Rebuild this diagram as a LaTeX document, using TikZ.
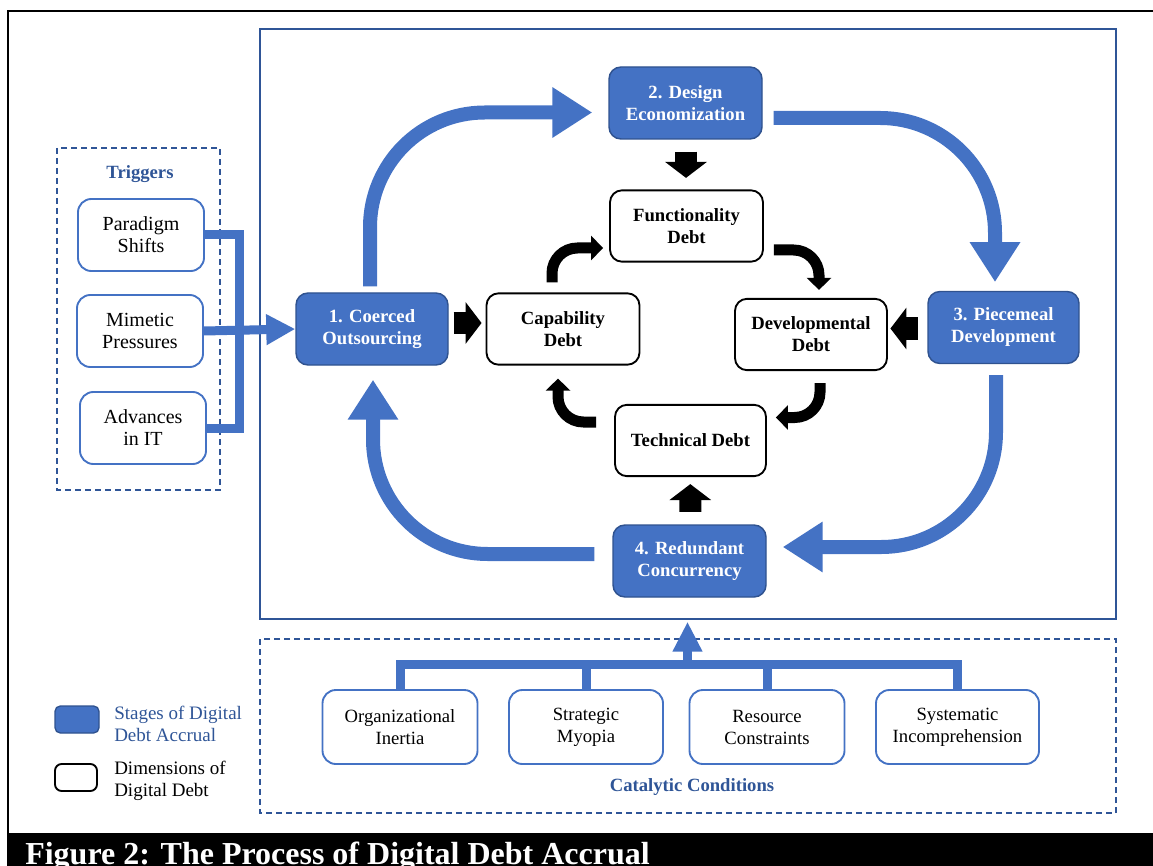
\documentclass[tikz,border=0pt]{standalone}
\usepackage{fontspec}
\setmainfont{Liberation Serif}
\usetikzlibrary{arrows.meta,calc}
\definecolor{stageblue}{RGB}{68,114,196}
\definecolor{stageedge}{RGB}{47,82,143}
\definecolor{framecol}{RGB}{47,85,151}
\definecolor{labelblue}{RGB}{47,85,151}
\begin{document}
\begin{tikzpicture}[x=0.75pt,y=-0.75pt,
 stagebox/.style={rectangle, rounded corners=9pt, fill=stageblue, draw=stageedge, line width=1.1pt, text=white, align=center, font=\bfseries\fontsize{14}{16.5}\selectfont, inner sep=0pt, minimum height=54pt},
 dimbox/.style={rectangle, rounded corners=9pt, fill=white, draw=black, line width=1.4pt, align=center, font=\bfseries\fontsize{14}{16.5}\selectfont, inner sep=0pt, minimum height=53.5pt},
 trigbox/.style={rectangle, rounded corners=10pt, fill=white, draw=stageblue, line width=1.4pt, align=center, font=\fontsize{15}{16.5}\selectfont, minimum width=94.5pt, minimum height=54pt, inner sep=0pt},
 catbox/.style={rectangle, rounded corners=10pt, fill=white, draw=stageblue, line width=1.4pt, align=center, font=\fontsize{14}{16.5}\selectfont, minimum height=55.5pt, inner sep=0pt},
 dashframe/.style={draw=framecol, line width=1.2pt, dash pattern=on 4.5pt off 3pt},
 bluearrow/.style={draw=stageblue, line width=10.5pt, rounded corners=86pt, -{Triangle[width=36pt,length=30pt]}},
 blackcurve/.style={draw=black, line width=8.25pt, rounded corners=19pt, -{Triangle[width=18pt,length=9pt]}},
 blockarrow/.style={draw=black, line width=16.5pt, -{Triangle[width=30.75pt,length=12pt]}},
 trigline/.style={draw=stageblue, line width=6.75pt, line join=miter},
 trigarrow/.style={draw=stageblue, line width=6.75pt, -{Triangle[width=21.75pt,length=21.75pt]}},
 catarrow/.style={draw=stageblue, line width=6.75pt, -{Triangle[width=21pt,length=22.5pt]}}
]
\useasboundingbox (0,0) rectangle (1153,866);

% outer frame and caption bar
\draw[line width=1.5pt] (8,833) -- (8,11) -- (1160,11);
\fill[black] (7,833) rectangle (1160,870);
\node[anchor=base west, inner sep=0pt, text=white, font=\bfseries\fontsize{24}{28}\selectfont] (caption) at (25,864) {Figure 2: The Process of Digital Debt Accrual};

% frames
\draw[draw=framecol, line width=1.2pt] (260,29) rectangle (1116,619);
\draw[dashframe] (57,148) rectangle (220,490);
\draw[dashframe] (260,639) rectangle (1116,813);

% triggers
\node[font=\bfseries\fontsize{14}{16}\selectfont, text=labelblue] (trighead) at (140,174) {Triggers};
\node[trigbox] (trig1) at (141,235) {Paradigm\\Shifts};
\node[trigbox] (trig2) at (140,331) {Mimetic\\Pressures};
\node[trigbox] (trig3) at (143,428) {Advances\\in IT};

% stages
\node[stagebox, minimum width=114pt] (s1) at (372,329) {1. Coerced\\Outsourcing};
\node[stagebox, minimum width=114.75pt] (s2) at (685.5,103) {2. Design\\Economization};
\node[stagebox, minimum width=113.25pt] (s3) at (1003.5,327.5) {3. Piecemeal\\Development};
\node[stagebox, minimum width=114.75pt] (s4) at (689.5,561) {4. Redundant\\Concurrency};

% dimensions
\node[dimbox, minimum width=114.75pt] (dfun) at (686.5,226) {Functionality\\Debt};
\node[dimbox, minimum width=114.75pt] (dcap) at (563,329) {Capability\\Debt};
\node[dimbox, minimum width=114pt] (ddev) at (811,334.5) {Developmental\\Debt};
\node[dimbox, minimum width=113.25pt] (dtech) at (690.5,440.5) {Technical Debt};

% catalytic conditions
\node[catbox, minimum width=116.25pt] (corg) at (400,727) {Organizational\\Inertia};
\node[catbox, minimum width=115.5pt] (cstr) at (586,727) {Strategic\\Myopia};
\node[catbox, minimum width=116.25pt] (cres) at (767,727) {Resource\\Constraints};
\node[catbox, minimum width=122.25pt] (csys) at (957.5,727) {Systematic\\Incomprehension};
\node[font=\bfseries\fontsize{14}{16}\selectfont, text=labelblue] (cathead) at (692,787) {Catalytic Conditions};

% legend
\node[rectangle, rounded corners=4pt, fill=stageblue, draw=stageedge, line width=1pt, minimum width=33pt, minimum height=20.25pt, inner sep=0pt] (legs) at (77,719.5) {};
\node[rectangle, rounded corners=5pt, fill=white, draw=black, line width=1.4pt, minimum width=31.5pt, minimum height=20.25pt, inner sep=0pt] (legd) at (76,777.5) {};
\node[anchor=west, align=left, text=labelblue, font=\fontsize{14.25}{17}\selectfont, inner sep=0pt] (legst) at (114,724) {Stages of Digital\\Debt Accrual};
\node[anchor=west, align=left, font=\fontsize{14.25}{17}\selectfont, inner sep=0pt] (legdt) at (114,781) {Dimensions of\\Digital Debt};

% trigger connectors
\draw[trigline] (trig1.east) -- ++(35,0) |- (trig3.east);
\draw[trigarrow] (trig2.east) -- (s1.west);

% catalytic connectors
\coordinate (catmid) at ($(s4.south)+(-2,68)$);
\draw[trigline] (corg.north) -- ($(corg.north)+(0,-25)$) -- ($(csys.north)+(0,-25)$) -- (csys.north);
\draw[trigline] (cstr.north) -- ($(cstr.north)+(0,-25)$);
\draw[trigline] (cres.north) -- ($(cres.north)+(0,-25)$);
\draw[catarrow] (catmid) -- ($(s4.south)+(-2,24)$);

% big blue cycle
\draw[bluearrow] ($(s1.north)+(-2,-6)$) |- ($(s2.west)+(-16,9.5)$);
\draw[bluearrow] ($(s2.east)+(11,15)$) -| ($(s3.north)+(-8.5,-8.7)$);
\draw[bluearrow] ($(s3.south)+(-7.5,11)$) |- ($(s4.east)+(16,-14)$);
\draw[bluearrow] ($(s4.west)+(-18,-7)$) -| ($(s1.south)+(1,14)$);

% black block arrows
\draw[blockarrow] ($(s2.south)+(0.5,12)$) -- ($(dfun.north)+(-0.5,-11.5)$);
\draw[blockarrow] ($(s1.east)+(5,-6)$) -- ($(dcap.west)+(-4,-6)$);
\draw[blockarrow] ($(s3.west)+(-9.5,1)$) -- ($(ddev.east)+(2.5,-6)$);
\draw[blockarrow] ($(s4.north)+(0.8,-12.5)$) -- ($(dtech.south)+(-0.2,7)$);

% black curved arrows
\draw[blackcurve] ($(dcap.north)+(-11,-10)$) |- ($(dfun.west)+(-6,22)$);
\draw[blackcurve] ($(dfun.east)+(10,24)$) -| ($(ddev.north)+(8,-8)$);
\draw[blackcurve] ($(ddev.south)+(9,12)$) |- ($(dtech.east)+(9,-23)$);
\draw[blackcurve] ($(dtech.west)+(-18,-18.5)$) -| ($(dcap.south)+(-5,13)$);
\end{tikzpicture}
\end{document}
